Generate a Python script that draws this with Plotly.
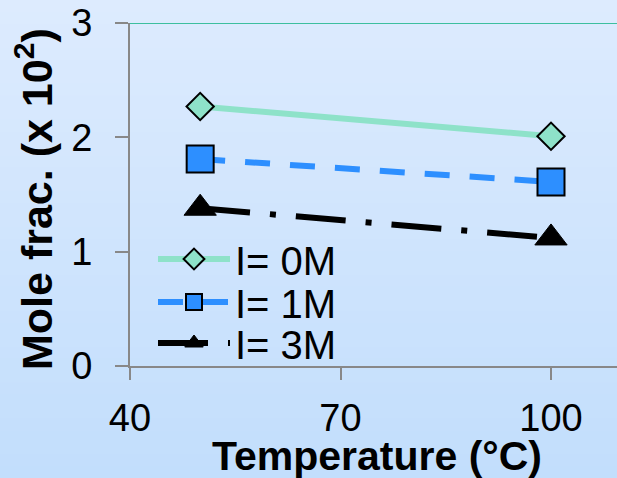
import plotly.graph_objects as go

# ---- data ----
temperature = [50, 100]
series_names = ["I= 0M", "I= 1M", "I= 3M"]
i0_values = [2.27, 2.01]
i1_values = [1.81, 1.61]
i3_values = [1.38, 1.12]
x_ticks = [40, 70, 100]
y_ticks = [0, 1, 2, 3]

FONT = "Liberation Sans, Arial, sans-serif"

fig = go.Figure()

fig.add_trace(go.Scatter(
    x=temperature, y=i0_values, name=series_names[0], mode="lines+markers",
    line=dict(color="#8EE2C9", width=6, dash="solid"),
    marker=dict(symbol="diamond", size=21, color="#8EE2C9",
                line=dict(color="black", width=2)),
    legend="legend"))
fig.add_trace(go.Scatter(
    x=temperature, y=i1_values, name=series_names[1], mode="lines+markers",
    line=dict(color="#2D8FFF", width=6, dash="25px,20px"),
    marker=dict(symbol="square", size=27, color="#2D8FFF",
                line=dict(color="black", width=2)),
    legend="legend2"))
fig.add_trace(go.Scatter(
    x=temperature, y=i3_values, name=series_names[2], mode="lines+markers",
    line=dict(color="black", width=6, dash="50px,20px,6px,20px"),
    marker=dict(symbol="triangle-up", size=28, color="black",
                line=dict(color="black", width=1)),
    legend="legend3"))

# gradient background bands (paper coords)
W, H = 617, 478
ml, mr, mt, mb = 130, 0, 23, 112
pw, ph = W - ml - mr, H - mt - mb
top_c = (0xDD, 0xEB, 0xFE)
bot_c = (0xC2, 0xDE, 0xFC)
shapes = []
nb = 40
for k in range(nb):
    py0 = k * H / nb
    py1 = (k + 1) * H / nb + 1
    t = (k + 0.5) / nb
    c = tuple(round(top_c[j] + (bot_c[j] - top_c[j]) * t) for j in range(3))
    shapes.append(dict(type="rect", xref="paper", yref="paper",
                       x0=-ml / pw - 0.05, x1=1.05,
                       y0=(H - mb - py1) / ph, y1=(H - mb - py0) / ph,
                       fillcolor="rgb(%d,%d,%d)" % c, line=dict(width=0),
                       layer="below"))
shapes.append(dict(type="line", xref="paper", yref="y", x0=0, x1=1.05,
                   y0=3, y1=3, line=dict(color="#3DBF9F", width=2),
                   layer="below"))

legend_common = dict(font=dict(family=FONT, size=40, color="black"),
                     bgcolor="rgba(0,0,0,0)", xanchor="left", yanchor="middle",
                     itemwidth=72)

LX = (153 - ml) / pw

fig.update_layout(
    width=W, height=H,
    margin=dict(l=ml, r=mr, t=mt, b=mb, pad=0),
    paper_bgcolor="#CFE4FC", plot_bgcolor="rgba(0,0,0,0)",
    font=dict(family=FONT, color="black"),
    showlegend=True,
    legend=dict(x=LX, y=(H - mb - 259) / ph, **legend_common),
    legend2=dict(x=LX, y=(H - mb - 302) / ph, **legend_common),
    legend3=dict(x=LX, y=(H - mb - 343) / ph, **legend_common),
    shapes=shapes,
    hovermode=False,
    xaxis=dict(range=[40, 40 + pw / ((551 - 130) / 60)], tickvals=x_ticks,
               showline=True, linecolor="#888888", linewidth=2,
               ticks="outside", ticklen=12, tickwidth=2, tickcolor="#888888",
               showgrid=False, zeroline=False, ticklabelstandoff=5,
               tickfont=dict(family=FONT, size=38, color="black")),
    yaxis=dict(range=[0, 3], tickvals=y_ticks,
               showline=True, linecolor="#888888", linewidth=2,
               ticks="outside", ticklen=13, tickwidth=2, tickcolor="#888888",
               showgrid=False, zeroline=False, ticklabelstandoff=15,
               tickfont=dict(family=FONT, size=38, color="black")),
    annotations=[
        dict(text="<b>Temperature (°C)</b>", xref="paper", yref="paper",
             x=(377 - ml) / pw, y=(H - mb - 456) / ph, xanchor="center",
             yanchor="middle", showarrow=False,
             font=dict(family=FONT, size=41, color="black")),
        dict(text="<b>Mole frac. (x 10<sup>2</sup>)</b>", xref="paper",
             yref="paper", x=(34 - ml) / pw, y=(H - mb - 199) / ph,
             xanchor="center", yanchor="middle", textangle=-90,
             showarrow=False, font=dict(family=FONT, size=43, color="black")),
    ],
)

fig.write_html(
    "out.html",
    config={"displayModeBar": False},
    post_script="document.body.style.margin='0';document.body.style.overflow='hidden';",
)
